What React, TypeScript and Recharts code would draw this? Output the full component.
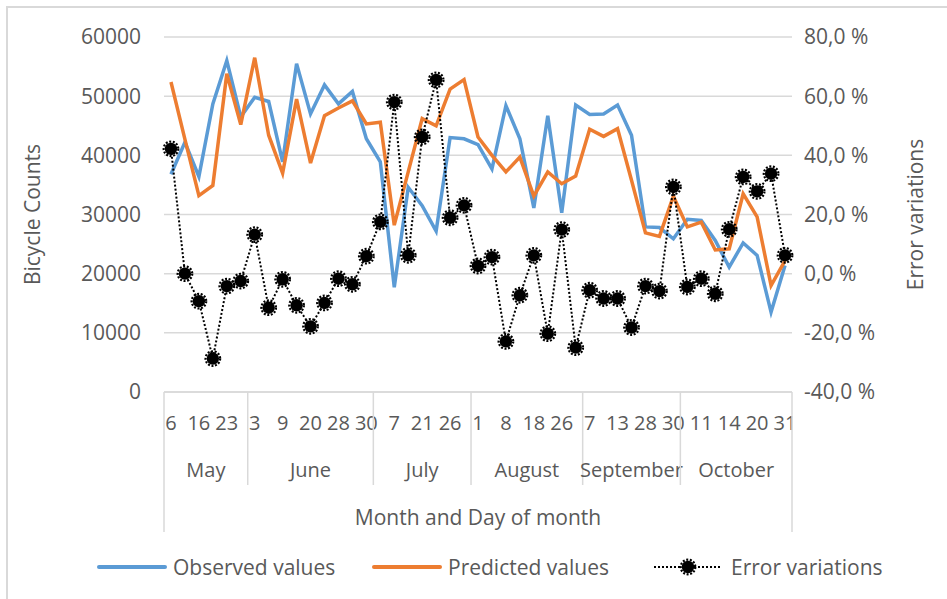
import React from 'react';
import { ComposedChart, Line, XAxis, YAxis, CartesianGrid, Legend } from 'recharts';

const monthNames = ['May', 'June', 'July', 'August', 'September', 'October'];
const monthCounts = [6, 9, 7, 8, 7, 8];

const days = [
  6, 9, 16, 19, 23, 27,
  3, 6, 9, 13, 20, 24, 28, 29, 30,
  3, 7, 14, 21, 24, 26, 29,
  1, 4, 8, 15, 18, 22, 26, 29,
  7, 10, 13, 20, 28, 29, 30,
  4, 11, 12, 14, 17, 20, 25, 31,
];

const observed = [
  36800, 42200, 36400, 48700, 56000, 46500,
  49800, 49100, 38900, 55500, 47000, 51900, 48700, 50800, 42800,
  38900, 17700, 34600, 31500, 27200, 43000, 42800,
  41800, 37700, 48400, 42800, 31100, 46700, 30300, 48500,
  46900, 47000, 48500, 43400, 27900, 27800, 25900,
  29200, 29000, 25600, 21100, 25200, 23100, 13500, 21400,
];

const predicted = [
  52400, 42700, 33200, 34900, 53800, 45200,
  56500, 43400, 37000, 49500, 38700, 46700, 48000, 49200, 45300,
  45600, 28200, 37200, 46200, 45000, 51200, 52800,
  43100, 40000, 37200, 39700, 33100, 37200, 35200, 36500,
  44400, 43200, 44500, 35800, 26900, 26300, 33100,
  27900, 28700, 24000, 24200, 33500, 29600, 18000, 22200,
];

const errorPct = [
  42.2, 0.0, -9.3, -28.7, -4.2, -2.5,
  13.2, -11.5, -1.9, -10.7, -17.8, -9.9, -1.7, -3.6, 5.9,
  17.5, 58.0, 6.2, 46.2, 65.5, 18.9, 23.1,
  2.6, 5.6, -22.9, -7.3, 6.2, -20.3, 14.9, -25.0,
  -5.6, -8.4, -8.4, -18.2, -4.2, -5.9, 29.3,
  -4.5, -1.7, -6.8, 15.0, 32.7, 27.8, 33.8, 6.2,
];

const leftTicks = [0, 10000, 20000, 30000, 40000, 50000, 60000];
const rightTicks = [-40, -20, 0, 20, 40, 60, 80];

const monthOfIndex: string[] = [];
const groupStart: number[] = [];
monthNames.forEach((m, gi) => {
  groupStart.push(monthOfIndex.length);
  for (let k = 0; k < monthCounts[gi]; k++) monthOfIndex.push(m);
});

const data = days.map((d, i) => ({
  day: String(d),
  month: monthOfIndex[i],
  observed: observed[i],
  predicted: predicted[i],
  error: errorPct[i],
}));

const W = 947;
const H = 599;
const LEFT_W = 164;
const RIGHT_W = 155;
const TOP = 37;
const DAY_H = 54;
const MONTH_H = 46;
const BOTTOM = 107;
const PLOT_W = W - LEFT_W - RIGHT_W;
const BAND = PLOT_W / data.length;
const PAD = { left: BAND / 2, right: BAND / 2 };

const TEXT = '#595959';
const GRID = '#d9d9d9';
const BLUE = '#5B9BD5';
const ORANGE = '#ED7D31';
const FS = 21;
const FS_CAT = 20;

const MonthTick = (props: any) => {
  const { x, y, payload } = props;
  const idx = props.index ?? payload?.index ?? 0;
  const gi = groupStart.indexOf(idx);
  const n = data.length;
  const axisTop = y;
  const plotBottom = axisTop - DAY_H;
  const parts: React.ReactNode[] = [];
  if (gi >= 0) {
    const left = x - BAND / 2;
    const isFirst = gi === 0;
    parts.push(
      <line key="s" x1={left} x2={left} y1={plotBottom} y2={isFirst ? axisTop + 86 : axisTop + 39} stroke={GRID} strokeWidth={1.5} />
    );
    const cx = x + ((monthCounts[gi] - 1) / 2) * BAND;
    parts.push(
      <text key="t" x={cx} y={axisTop + 23} textAnchor="middle" dominantBaseline="central" fill={TEXT} fontSize={FS_CAT}>
        {monthNames[gi]}
      </text>
    );
  }
  if (idx === n - 1) {
    const right = x + BAND / 2;
    parts.push(
      <line key="r" x1={right} x2={right} y1={plotBottom} y2={axisTop + 86} stroke={GRID} strokeWidth={1.5} />
    );
  }
  return <g>{parts}</g>;
};

const renderGear = (p: any) => {
  const { cx, cy, index } = p;
  if (cx == null || cy == null) return <g key={`e${index}`} />;
  return (
    <g key={`g${index}`}>
      <circle cx={cx} cy={cy} r={6.2} fill="#000" />
      <circle cx={cx} cy={cy} r={7.3} fill="none" stroke="#000" strokeWidth={2.2} strokeDasharray="2 1.6" />
    </g>
  );
};

const leftTitle = (props: any) => {
  const vb = props.viewBox || { x: 0, y: TOP, width: LEFT_W, height: H - TOP - DAY_H - MONTH_H - BOTTOM };
  const cx = vb.x + 32;
  const cy = vb.y + vb.height / 2;
  return (
    <text x={cx} y={cy} transform={`rotate(-90 ${cx} ${cy})`} textAnchor="middle" dominantBaseline="central" fill={TEXT} fontSize={FS}>
      Bicycle Counts
    </text>
  );
};

const rightTitle = (props: any) => {
  const vb = props.viewBox || { x: LEFT_W + PLOT_W, y: TOP, width: RIGHT_W, height: H - TOP - DAY_H - MONTH_H - BOTTOM };
  const cx = vb.x + 123;
  const cy = vb.y + vb.height / 2;
  return (
    <text x={cx} y={cy} transform={`rotate(-90 ${cx} ${cy})`} textAnchor="middle" dominantBaseline="central" fill={TEXT} fontSize={FS}>
      Error variations
    </text>
  );
};

const bottomTitle = (props: any) => {
  const vb = props.viewBox || { x: LEFT_W, y: H - BOTTOM - MONTH_H, width: PLOT_W, height: MONTH_H };
  const cx = vb.x + vb.width / 2;
  const cy = vb.y + vb.height + 25;
  return (
    <text x={cx} y={cy} textAnchor="middle" dominantBaseline="central" fill={TEXT} fontSize={FS}>
      Month and Day of month
    </text>
  );
};

const legendItems = [
  { name: 'Observed values', kind: 'blue', left: 97 },
  { name: 'Predicted values', kind: 'orange', left: 372 },
  { name: 'Error variations', kind: 'error', left: 653 },
];

const LegendContent = () => (
  <div style={{ position: 'relative', width: W, height: 30 }}>
    {legendItems.map((it) => (
      <div key={it.name} style={{ position: 'absolute', left: it.left, top: 0, height: 30, display: 'flex', alignItems: 'center' }}>
        <svg width={70} height={20} style={{ display: 'block' }}>
          {it.kind === 'error' ? (
            <g>
              <line x1={1} x2={69} y1={10} y2={10} stroke="#000" strokeWidth={2} strokeDasharray="2 2" />
              <circle cx={35} cy={10} r={6.2} fill="#000" />
              <circle cx={35} cy={10} r={7.3} fill="none" stroke="#000" strokeWidth={2.2} strokeDasharray="2 1.6" />
            </g>
          ) : (
            <line x1={2} x2={68} y1={10} y2={10} stroke={it.kind === 'blue' ? BLUE : ORANGE} strokeWidth={4} strokeLinecap="round" />
          )}
        </svg>
        <span style={{ marginLeft: it.kind === 'error' ? 8 : 6, fontSize: FS, color: TEXT, whiteSpace: 'nowrap', lineHeight: '30px' }}>{it.name}</span>
      </div>
    ))}
  </div>
);

const fmtPct = (v: number) => `${v.toFixed(1).replace('.', ',')} %`;

export default function App() {
  return (
    <div style={{ position: 'absolute', left: 0, top: 0, width: W, height: H, overflow: 'hidden', background: '#fff', fontFamily: '"Open Sans", sans-serif' }}>
      <div style={{ position: 'absolute', left: 6, top: 6, width: W + 20, height: H + 20, border: `2px solid ${GRID}`, boxSizing: 'border-box' }} />
      <ComposedChart
        width={W}
        height={H}
        data={data}
        margin={{ top: TOP, right: 0, bottom: BOTTOM, left: 0 }}
        style={{ position: 'absolute', left: 0, top: 0 }}
      >
        <CartesianGrid vertical={false} stroke={GRID} strokeWidth={1.5} yAxisId="left" xAxisId="day" />
        <XAxis
          xAxisId="day"
          dataKey="day"
          padding={PAD}
          height={DAY_H}
          interval={1}
          axisLine={{ stroke: GRID, strokeWidth: 1.5 }}
          tickLine={false}
          tickSize={0}
          tickMargin={24}
          tick={{ fill: TEXT, fontSize: FS_CAT }}
        />
        <XAxis
          xAxisId="month"
          dataKey="month"
          padding={PAD}
          height={MONTH_H}
          interval={0}
          axisLine={false}
          tickLine={false}
          tickSize={0}
          tickMargin={0}
          tick={<MonthTick />}
          label={bottomTitle}
        />
        <YAxis
          yAxisId="left"
          width={LEFT_W}
          domain={[0, 60000]}
          ticks={leftTicks}
          axisLine={false}
          tickLine={false}
          tickSize={0}
          tickMargin={23}
          tick={{ fill: TEXT, fontSize: FS }}
          label={leftTitle}
        />
        <YAxis
          yAxisId="right"
          orientation="right"
          width={RIGHT_W}
          domain={[-40, 80]}
          ticks={rightTicks}
          axisLine={false}
          tickLine={false}
          tickSize={0}
          tickMargin={12}
          tick={{ fill: TEXT, fontSize: FS }}
          tickFormatter={fmtPct}
          label={rightTitle}
        />
        <Line xAxisId="day" yAxisId="left" type="linear" dataKey="observed" name="Observed values" stroke={BLUE} strokeWidth={3.5} dot={false} isAnimationActive={false} />
        <Line xAxisId="day" yAxisId="left" type="linear" dataKey="predicted" name="Predicted values" stroke={ORANGE} strokeWidth={3.5} dot={false} isAnimationActive={false} />
        <Line xAxisId="day" yAxisId="right" type="linear" dataKey="error" name="Error variations" stroke="#000" strokeWidth={2} strokeDasharray="2 2" dot={renderGear} isAnimationActive={false} />
        <Legend
          layout="horizontal"
          verticalAlign="middle"
          align="center"
          wrapperStyle={{ top: 552, left: 0, width: W }}
          content={<LegendContent />}
        />
      </ComposedChart>
    </div>
  );
}
